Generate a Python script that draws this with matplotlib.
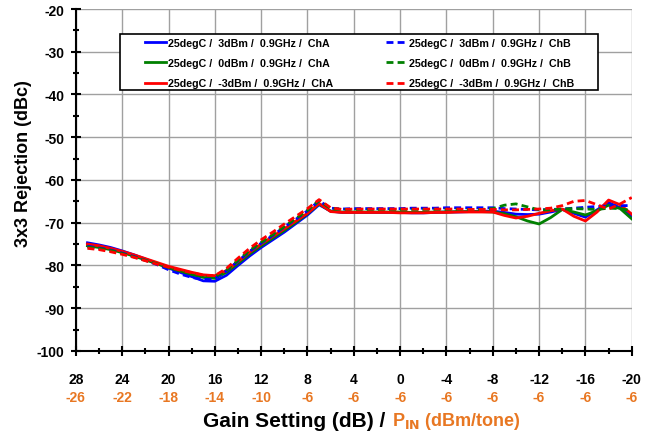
import matplotlib
matplotlib.use("Agg")
import matplotlib.pyplot as plt
import matplotlib.transforms as mtransforms
from matplotlib.patches import Rectangle
from matplotlib.ticker import MultipleLocator

plt.rcParams['font.family'] = ['Liberation Sans', 'DejaVu Sans']
plt.rcParams['font.weight'] = 'bold'
plt.rcParams['axes.unicode_minus'] = False

# gain setting sweep (dB)
gain = list(range(27, -21, -1))

# 3x3 rejection (dBc), ChA
blue_a = [-74.7, -75.2, -75.8, -76.6, -77.5, -78.5, -79.5, -80.6, -81.6, -82.6,
          -83.6, -83.7, -82.3, -80.0, -77.8, -75.8, -74.0, -72.2, -70.2, -68.2,
          -65.8, -67.3, -67.6, -67.6, -67.6, -67.6, -67.6, -67.6, -67.7, -67.7,
          -67.6, -67.5, -67.5, -67.4, -67.3, -67.3, -67.6, -68.0, -68.1, -68.0,
          -67.5, -66.9, -67.8, -68.7, -67.0, -65.3, -66.5, -68.4]
green_a = [-75.4, -75.8, -76.3, -77.0, -77.8, -78.7, -79.6, -80.5, -81.3, -82.1,
           -82.8, -83.0, -81.6, -79.5, -77.3, -75.4, -73.6, -71.8, -69.9, -67.9,
           -65.6, -67.3, -67.5, -67.5, -67.5, -67.5, -67.5, -67.5, -67.6, -67.6,
           -67.5, -67.5, -67.4, -67.4, -67.4, -67.5, -67.9, -68.6, -69.6, -70.3,
           -68.8, -66.9, -67.5, -68.2, -67.2, -65.9, -66.7, -69.1]
red_a = [-75.0, -75.4, -76.0, -76.7, -77.5, -78.4, -79.3, -80.2, -80.9, -81.6,
         -82.2, -82.4, -81.2, -79.1, -76.9, -75.0, -73.2, -71.4, -69.6, -67.8,
         -65.5, -67.4, -67.6, -67.6, -67.6, -67.6, -67.6, -67.7, -67.7, -67.7,
         -67.6, -67.6, -67.5, -67.5, -67.5, -67.5, -68.3, -68.9, -68.5, -67.8,
         -67.2, -66.8, -68.5, -69.6, -67.5, -64.7, -65.8, -68.0]

# 3x3 rejection (dBc), ChB
blue_b = [-75.5, -75.9, -76.4, -77.1, -77.9, -78.8, -79.8, -81.0, -82.0, -82.8,
          -83.3, -83.1, -81.3, -79.0, -76.7, -74.8, -73.0, -71.0, -69.2, -67.2,
          -64.9, -66.6, -66.8, -66.7, -66.7, -66.7, -66.7, -66.7, -66.6, -66.6,
          -66.6, -66.5, -66.5, -66.5, -66.5, -66.5, -66.7, -66.8, -66.9, -67.0,
          -66.9, -66.8, -66.6, -66.4, -66.2, -66.1, -66.0, -66.0]
green_b = [-75.7, -76.0, -76.5, -77.2, -78.0, -78.8, -79.6, -80.5, -81.3, -82.0,
           -82.6, -82.7, -81.1, -78.8, -76.5, -74.6, -72.8, -70.9, -69.0, -67.1,
           -64.8, -66.7, -66.9, -66.9, -66.9, -66.9, -66.9, -66.9, -66.9, -66.9,
           -66.9, -66.9, -66.9, -66.9, -66.9, -66.7, -65.9, -65.6, -66.3, -67.0,
           -67.0, -66.8, -66.7, -66.8, -66.9, -66.6, -66.7, -67.2]
red_b = [-76.0, -76.3, -76.8, -77.4, -78.1, -78.9, -79.7, -80.4, -81.1, -81.7,
         -82.3, -82.4, -80.7, -78.3, -76.0, -74.0, -72.2, -70.3, -68.5, -66.7,
         -64.6, -66.5, -66.9, -66.8, -66.8, -66.8, -66.8, -66.8, -66.8, -66.8,
         -66.8, -66.8, -66.8, -66.9, -66.9, -66.9, -67.0, -67.0, -66.9, -66.8,
         -66.6, -66.0, -65.0, -64.8, -65.8, -66.8, -65.6, -64.1]

# second row of x labels: input power per tone at each gain setting
gain_ticks = list(range(28, -21, -4))
pin_labels = ['-26', '-22', '-18', '-14', '-10', '-6', '-6', '-6', '-6', '-6', '-6', '-6', '-6']

orange = '#E87722'
fig = plt.figure(figsize=(6.54, 4.35), dpi=100)
ax = fig.add_axes([0.116, 0.191, 0.850, 0.786])

series = [
    (blue_a, 'blue', '-', '25degC /  3dBm /  0.9GHz /  ChA'),
    (green_a, 'green', '-', '25degC /  0dBm /  0.9GHz /  ChA'),
    (red_a, 'red', '-', '25degC /  -3dBm /  0.9GHz /  ChA'),
    (blue_b, 'blue', '--', '25degC /  3dBm /  0.9GHz /  ChB'),
    (green_b, 'green', '--', '25degC /  0dBm /  0.9GHz /  ChB'),
    (red_b, 'red', '--', '25degC /  -3dBm /  0.9GHz /  ChB'),
]
for vals, col, ls, lab in series:
    line, = ax.plot(gain, vals, color=col, linestyle=ls, linewidth=2, label=lab)
    if ls == '--':
        line.set_dashes((2.5, 1.5))

ax.set_xlim(28, -20)
ax.set_ylim(-100, -20)
ax.xaxis.set_minor_locator(MultipleLocator(2))
ax.yaxis.set_major_locator(MultipleLocator(10))
ax.yaxis.set_minor_locator(MultipleLocator(5))
ax.set_xticks(gain_ticks)
ax.set_xticklabels([str(g) for g in gain_ticks])

ax.grid(True, which='major', color='#A0A0A0', linewidth=1)
for s in ['top', 'right']:
    ax.spines[s].set_visible(False)
for s in ['left', 'bottom']:
    ax.spines[s].set_linewidth(1.5)
ax.tick_params(which='major', direction='inout', length=7, width=1.5,
               labelsize=10, pad=12)
ax.tick_params(which='minor', direction='inout', length=5, width=1.5)
ax.tick_params(axis='y', pad=5)

# orange P_IN labels under the gain labels
trans = mtransforms.blended_transform_factory(ax.transData, ax.transAxes)
for g, p in zip(gain_ticks, pin_labels):
    ax.text(g, -0.135, p, transform=trans, ha='center', va='center',
            color=orange, fontsize=10, fontweight='bold')

ax.set_ylabel('3x3 Rejection (dBc)', fontsize=13, fontweight='bold')
ax.yaxis.set_label_coords(-0.079, 0.55)
fig.text(0.589, 0.031, 'Gain Setting (dB) /', ha='right', va='center',
         fontsize=15, fontweight='bold')
fig.text(0.600, 0.031, r'P$_{\mathbf{IN}}$ (dBm/tone)', ha='left', va='center',
         fontsize=13, fontweight='bold', color=orange)

# legend box drawn separately so the entries can sit inset from the frame
ax.add_patch(Rectangle((0.079, 0.763), 0.860, 0.164, transform=ax.transAxes,
                       facecolor='white', edgecolor='black', linewidth=1.2, zorder=4))
leg = ax.legend(ncol=2, loc='upper left', bbox_to_anchor=(0.124, 0.915),
                fontsize=7.7, frameon=False, handlelength=2.0, handletextpad=0.2,
                borderpad=0, borderaxespad=0, labelspacing=0.95, columnspacing=4.9)
leg.set_zorder(5)
for t in leg.get_texts():
    t.set_fontweight('bold')

fig.savefig('out.png', dpi=100)
